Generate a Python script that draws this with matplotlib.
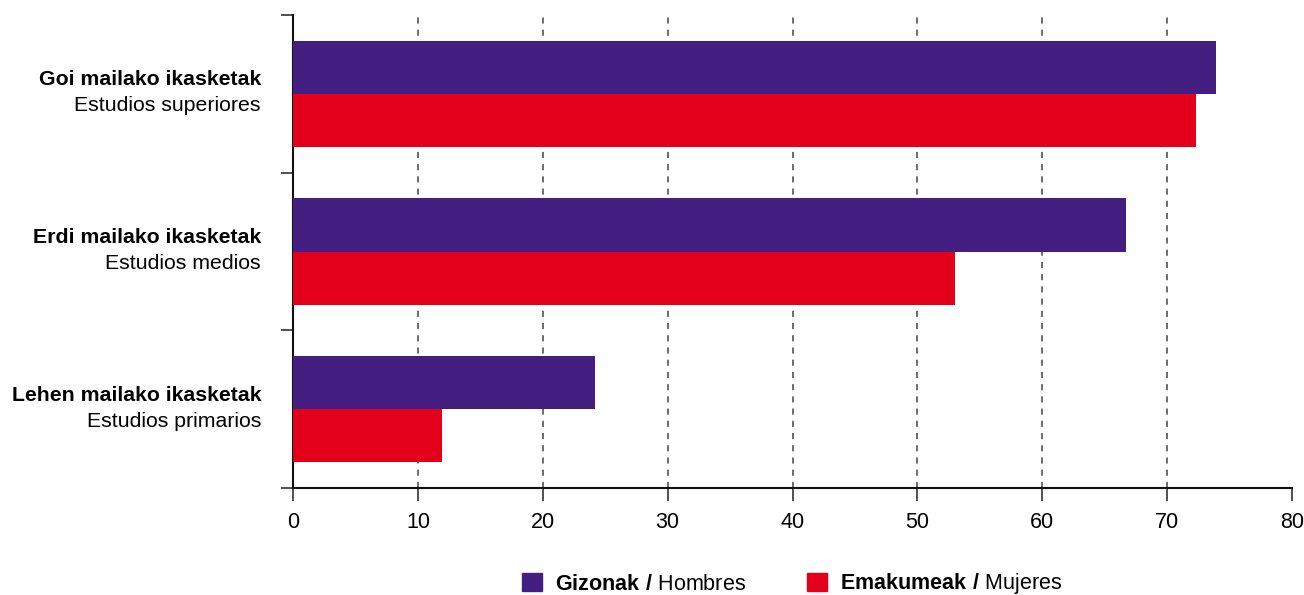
import matplotlib
matplotlib.use("Agg")
import matplotlib.pyplot as plt
import matplotlib.transforms as mtransforms
from matplotlib.patches import Patch
import numpy as np

plt.rcParams['font.family'] = ['Liberation Sans', 'DejaVu Sans']
plt.rcParams['mathtext.fontset'] = 'custom'
plt.rcParams['mathtext.rm'] = 'Liberation Sans'
plt.rcParams['mathtext.bf'] = 'Liberation Sans:bold'

# Data (bottom to top)
cat_eu = ["Lehen mailako ikasketak", "Erdi mailako ikasketak", "Goi mailako ikasketak"]
cat_es = ["Estudios primarios", "Estudios medios", "Estudios superiores"]
gizonak = [24.2, 66.7, 73.9]
emakumeak = [11.9, 53.0, 72.3]
xticks = [0, 10, 20, 30, 40, 50, 60, 70, 80]
legend_labels = [r"$\bf{Gizonak\ /}$ Hombres", r"$\bf{Emakumeak\ /}$ Mujeres"]

purple = "#441E80"
red = "#E2001A"

fig = plt.figure(figsize=(13.04, 5.95), dpi=100)
ax = fig.add_axes([293/1304, 1-488/595, (1292-293)/1304, (488-15)/595])

y = np.arange(len(cat_eu))
h = 53/157
ax.barh(y + h/2, gizonak, height=h, color=purple, zorder=3)
ax.barh(y - h/2, emakumeak, height=h, color=red, zorder=3)

ax.set_xlim(0, 80)
ax.set_ylim(-0.5, len(cat_eu) - 0.5)
ax.set_xticks(xticks)
ax.set_xticklabels([str(t) for t in xticks], fontsize=15.5)
ax.set_yticks(np.arange(len(cat_eu) + 1) - 0.5)
ax.set_yticklabels([])
ax.tick_params(axis='y', length=9, width=1.2, color='#333333', direction='out')
ax.tick_params(axis='x', length=9, width=1.2, color='#333333', direction='out', pad=8)

for s in ['top', 'right']:
    ax.spines[s].set_visible(False)
for s in ['left', 'bottom']:
    ax.spines[s].set_linewidth(1.5)
    ax.spines[s].set_color('#111111')

ax.grid(axis='x', linestyle=(0, (4, 4)), color='#444444', linewidth=1.1, zorder=0)
gl = ax.get_xgridlines()
gl[0].set_visible(False)
gl[-1].set_visible(False)

trans = mtransforms.blended_transform_factory(ax.transAxes, ax.transData)
for yi, eu, es in zip(y, cat_eu, cat_es):
    ax.annotate(eu, xy=(0, yi), xycoords=trans, xytext=(-32, 14), textcoords='offset pixels',
                ha='right', va='center', fontsize=15.3, fontweight='bold')
    ax.annotate(es, xy=(0, yi), xycoords=trans, xytext=(-32, -12), textcoords='offset pixels',
                ha='right', va='center', fontsize=15.3)

handles = [Patch(color=purple), Patch(color=red)]
fig.legend(handles, legend_labels, loc='center', bbox_to_anchor=(792/1304, 1-584/595),
           ncol=2, frameon=False, fontsize=15.5, handlelength=0.93, handleheight=0.93,
           handletextpad=0.6, columnspacing=2.8, borderpad=0, borderaxespad=0)

fig.savefig("out.png", dpi=100)
